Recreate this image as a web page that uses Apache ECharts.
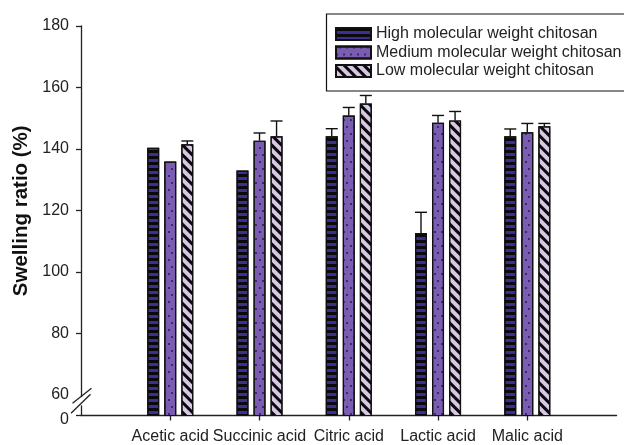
<!DOCTYPE html>
<html>
<head>
<meta charset="utf-8">
<script src="https://cdn.jsdelivr.net/npm/echarts@6/dist/echarts.min.js"></script>
<style>
html,body{margin:0;padding:0;background:#fff;}
#chart{width:624px;height:445px;}
</style>
</head>
<body>
<div id="chart"></div>
<script>
// ---- data ----
const acids = ['Acetic acid', 'Succinic acid', 'Citric acid', 'Lactic acid', 'Malic acid'];
const seriesNames = ['High molecular weight chitosan', 'Medium molecular weight chitosan', 'Low molecular weight chitosan'];
const highValues = [140.4, 133.0, 144.1, 112.7, 144.1];
const mediumValues = [135.9, 142.7, 150.9, 148.5, 145.4];
const lowValues = [141.5, 144.1, 154.8, 149.3, 147.4];
const highErrors = [0, 0, 2.5, 6.7, 2.4];
const mediumErrors = [0, 2.5, 2.6, 2.4, 2.9];
const lowErrors = [1.1, 5.0, 2.6, 2.9, 0.9];
const yTickValues = [60, 80, 100, 120, 140, 160, 180];
const yAxisBottom = 53.3; // shown as "0" (broken axis)

// ---- layout/style constants ----
const BAR_W = 12;
const BAR_GAP = 0.42;
const FONT = 'Liberation Sans, Arial, sans-serif';
const FS = 16;
const categories = [' '].concat(acids, ['  ']);
const values = [highValues, mediumValues, lowValues];
const errors = [highErrors, mediumErrors, lowErrors];
const colors = ['#3d2f92', '#7a5db3', '#d8c7e5'];
const decals = [
  {symbol: 'rect', dashArrayX: [1, 0], dashArrayY: [2.1, 2.6], rotation: 0, color: '#0a0a0a', symbolSize: 1},
  {symbol: 'circle', dashArrayX: [[1.6, 4.4], [0, 3, 1.6, 1.4]], dashArrayY: [1.6, 4.6], rotation: 0, color: '#2a1d45', symbolSize: 1},
  {symbol: 'rect', dashArrayX: [1, 0], dashArrayY: [3, 3.2], rotation: Math.PI / 4, color: '#0a0a0a', symbolSize: 1}
];

const chart = echarts.init(document.getElementById('chart'), null, {renderer: 'canvas'});

const barSeries = seriesNames.map((name, s) => ({
  name: name,
  type: 'bar',
  barWidth: BAR_W,
  barGap: (BAR_GAP * 100) + '%',
  data: values[s].map((v, i) => [acids[i], v]),
  itemStyle: {color: colors[s], borderColor: '#111', borderWidth: 1.2, decal: decals[s]},
  emphasis: {disabled: true},
  z: 2
}));

const errorSeries = seriesNames.map((name, s) => ({
  type: 'custom',
  name: name + ' err',
  z: 3,
  silent: true,
  data: values[s].map((v, i) => [acids[i], v, errors[s][i]]),
  renderItem: function (params, api) {
    const err = api.value(2);
    if (!err) return null;
    const v = api.value(1);
    const base = api.coord([api.value(0), v]);
    const top = api.coord([api.value(0), v + err]);
    const offset = (s - 1) * BAR_W * (1 + BAR_GAP);
    const x = base[0] + offset;
    return {
      type: 'group',
      children: [
        {type: 'line', shape: {x1: x, y1: base[1], x2: x, y2: top[1]}, style: {stroke: '#111', lineWidth: 1.4}},
        {type: 'line', shape: {x1: x - BAR_W / 2, y1: top[1], x2: x + BAR_W / 2, y2: top[1]}, style: {stroke: '#111', lineWidth: 1.4}}
      ]
    };
  }
}));

const option = {
  animation: false,
  backgroundColor: '#fff',
  textStyle: {fontFamily: FONT},
  grid: {left: 81, right: 6, top: 26, bottom: 29.5, containLabel: false},
  legend: {
    data: seriesNames.map(n => ({name: n, icon: 'rect'})),
    orient: 'vertical',
    left: 326,
    top: 14,
    padding: [12, 0, 11, 9],
    itemWidth: 35,
    itemHeight: 12,
    itemGap: 2.5,
    itemTextGap: 9,
    borderWidth: 0,
    selectedMode: false,
    textStyle: {fontSize: FS, color: '#222', fontFamily: FONT, lineHeight: 16},
    z: 5
  },
  // legend frame (runs past the right edge, as in the original figure)
  graphic: [
    {type: 'rect', shape: {x: 326.5, y: 14, width: 330, height: 77}, style: {fill: 'none', stroke: '#111', lineWidth: 1.2}, z: 4, silent: true}
  ],
  xAxis: {
    type: 'category',
    data: categories,
    boundaryGap: false,
    axisLine: {lineStyle: {color: '#222', width: 1.3}},
    axisTick: {
      length: 5,
      lineStyle: {color: '#222', width: 1.3},
      interval: function (i) { return i >= 1 && i <= acids.length; }
    },
    axisLabel: {interval: 0, fontSize: FS, color: '#222', margin: 13, fontFamily: FONT},
    splitLine: {show: false}
  },
  yAxis: {
    type: 'value',
    min: yAxisBottom,
    max: 180,
    name: 'Swelling ratio (%)',
    nameLocation: 'middle',
    nameGap: 46,
    nameTextStyle: {fontSize: 20.5, fontWeight: 'bold', color: '#111', fontFamily: FONT, padding: [0, 0, 0, 20]},
    axisLine: {show: true, lineStyle: {color: '#222', width: 1.3}},
    axisTick: {show: true, length: 5, lineStyle: {color: '#222', width: 1.3},
      customValues: [yAxisBottom].concat(yTickValues.slice(1))},
    axisLabel: {
      fontSize: FS, color: '#222', margin: 12, fontFamily: FONT,
      customValues: [yAxisBottom].concat(yTickValues),
      formatter: function (v) { return v < yTickValues[0] ? '{z|0}' : String(v); },
      rich: {z: {fontSize: FS, color: '#222', padding: [8, 0, 0, 0], fontFamily: FONT}}
    },
    splitLine: {show: false}
  },
  series: barSeries.concat(errorSeries)
};

chart.setOption(option);

// axis break marks (decoration), positioned from the axis scale
const xAxisPx = 81;
const gapTop = chart.convertToPixel({yAxisIndex: 0}, 59.3);
const gapBot = chart.convertToPixel({yAxisIndex: 0}, 56.6);
const mid1 = chart.convertToPixel({yAxisIndex: 0}, 59.7);
const mid2 = chart.convertToPixel({yAxisIndex: 0}, 57.1);
chart.setOption({
  graphic: [
    {type: 'rect', shape: {x: 326.5, y: 14, width: 330, height: 77}, style: {fill: 'none', stroke: '#111', lineWidth: 1.2}, z: 4, silent: true},
    {type: 'rect', shape: {x: xAxisPx - 3, y: gapTop, width: 6, height: gapBot - gapTop}, style: {fill: '#fff'}, z: 100},
    {type: 'line', shape: {x1: xAxisPx - 8.5, y1: mid1 + 7.5, x2: xAxisPx + 10.5, y2: mid1 - 7.5}, style: {stroke: '#222', lineWidth: 1.3}, z: 101},
    {type: 'line', shape: {x1: xAxisPx - 10, y1: mid2 + 9.5, x2: xAxisPx + 9.5, y2: mid2 - 9.5}, style: {stroke: '#222', lineWidth: 1.3}, z: 101}
  ]
});
</script>
</body>
</html>
